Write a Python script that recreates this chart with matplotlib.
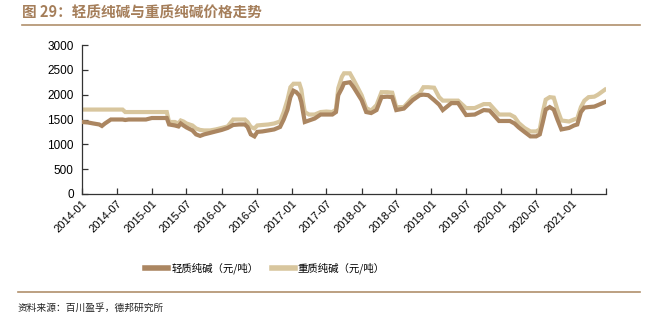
import matplotlib
matplotlib.use("Agg")
import matplotlib.pyplot as plt
import matplotlib.dates as mdates
import pandas as pd
from matplotlib.lines import Line2D

plt.rcParams['font.family'] = ['Liberation Sans', 'Noto Sans CJK SC', 'DejaVu Sans']

dates = [
    "2014-01-01", "2014-02-01", "2014-03-01", "2014-04-01", "2014-04-15", "2014-05-01",
    "2014-06-01", "2014-07-01", "2014-08-01", "2014-08-15", "2014-09-01", "2014-10-01",
    "2014-11-01", "2014-12-01", "2015-01-01", "2015-02-01", "2015-03-01", "2015-03-20",
    "2015-04-01", "2015-05-01", "2015-05-20", "2015-06-01", "2015-06-15", "2015-07-01",
    "2015-08-01", "2015-08-20", "2015-09-10", "2015-10-01", "2015-11-01", "2015-12-01",
    "2016-01-01", "2016-02-01", "2016-03-01", "2016-04-01", "2016-05-01", "2016-05-15",
    "2016-06-01", "2016-06-20", "2016-07-05", "2016-08-01", "2016-09-01", "2016-10-01",
    "2016-11-01", "2016-11-20", "2016-12-10", "2016-12-25", "2017-01-10", "2017-01-25",
    "2017-02-10", "2017-02-20", "2017-03-01", "2017-03-10", "2017-04-01", "2017-05-01",
    "2017-06-01", "2017-07-01", "2017-08-01", "2017-08-20", "2017-09-01", "2017-09-20",
    "2017-10-01", "2017-11-01", "2017-11-20", "2018-01-01", "2018-01-25", "2018-02-20",
    "2018-03-20", "2018-04-15", "2018-05-15", "2018-06-10", "2018-07-01", "2018-08-10",
    "2018-09-25", "2018-11-01", "2018-11-20", "2018-12-15", "2019-01-15", "2019-02-10",
    "2019-03-01", "2019-04-15", "2019-05-20", "2019-07-01", "2019-08-15", "2019-10-01",
    "2019-11-01", "2019-12-20", "2020-02-15", "2020-03-10", "2020-04-01", "2020-05-01",
    "2020-06-01", "2020-07-01", "2020-07-20", "2020-08-05", "2020-08-20", "2020-09-10",
    "2020-10-01", "2020-10-20", "2020-11-10", "2020-12-20", "2021-01-15", "2021-02-01",
    "2021-02-20", "2021-03-10", "2021-04-01", "2021-05-01", "2021-05-20", "2021-06-25",
]

light_soda = [
    1450, 1440, 1420, 1400, 1370, 1420,
    1500, 1500, 1500, 1490, 1500, 1500,
    1500, 1500, 1530, 1530, 1530, 1530,
    1400, 1380, 1360, 1420, 1380, 1340,
    1280, 1200, 1170, 1200, 1230, 1260,
    1290, 1330, 1390, 1400, 1400, 1350,
    1200, 1160, 1250, 1260, 1280, 1300,
    1350, 1500, 1700, 1950, 2080, 2050,
    1980, 1850, 1650, 1450, 1480, 1520,
    1600, 1600, 1600, 1650, 1990, 2130,
    2230, 2250, 2150, 1890, 1650, 1630,
    1690, 1950, 1960, 1950, 1690, 1720,
    1890, 1990, 2000, 1990, 1890, 1800,
    1690, 1830, 1830, 1590, 1600, 1690,
    1680, 1470, 1470, 1420, 1340, 1250,
    1160, 1160, 1200, 1450, 1700, 1750,
    1700, 1500, 1300, 1330, 1380, 1400,
    1650, 1740, 1750, 1760, 1790, 1850,
]

heavy_soda = [
    1700, 1700, 1700, 1700, 1700, 1700,
    1700, 1700, 1700, 1650, 1650, 1650,
    1650, 1650, 1650, 1650, 1650, 1650,
    1450, 1450, 1420, 1480, 1460, 1420,
    1380, 1320, 1290, 1280, 1280, 1300,
    1330, 1360, 1500, 1500, 1500, 1450,
    1350, 1320, 1380, 1390, 1400, 1420,
    1460, 1650, 1900, 2150, 2220, 2220,
    2220, 2100, 1850, 1650, 1600, 1600,
    1650, 1660, 1650, 1700, 2130, 2360,
    2430, 2430, 2300, 1990, 1730, 1680,
    1790, 2050, 2050, 2040, 1750, 1750,
    1950, 2030, 2150, 2150, 2140, 1950,
    1880, 1880, 1880, 1730, 1730, 1810,
    1810, 1600, 1600, 1550, 1430, 1330,
    1260, 1260, 1300, 1650, 1900, 1950,
    1940, 1700, 1480, 1460, 1500, 1520,
    1750, 1880, 1950, 1960, 2000, 2100,
]

series_names = ["轻质纯碱（元/吨）", "重质纯碱（元/吨）"]
tick_dates = ["2014-01", "2014-07", "2015-01", "2015-07", "2016-01", "2016-07",
              "2017-01", "2017-07", "2018-01", "2018-07", "2019-01", "2019-07",
              "2020-01", "2020-07", "2021-01"]
y_ticks = [0, 500, 1000, 1500, 2000, 2500, 3000]

c_light = "#AB8661"
c_heavy = "#D8C69E"
c_title = "#A57E5A"

x = pd.to_datetime(dates)

fig = plt.figure(figsize=(6.57, 3.27), dpi=100)
ax = fig.add_axes([82/657, 1-194/327, (606-82)/657, (194-45)/327])

ax.plot(x, light_soda, color=c_light, lw=3.0, solid_joinstyle='miter', zorder=3)
ax.plot(x, heavy_soda, color=c_heavy, lw=3.0, solid_joinstyle='miter', zorder=2)

ax.set_ylim(0, 3000)
ax.set_yticks(y_ticks)
ax.set_yticklabels([str(v) for v in y_ticks], fontsize=8.5)
xmin = pd.Timestamp("2014-01-01")
xmax = pd.Timestamp("2021-07-01")
ax.set_xlim(xmin, xmax)
tick_pos = list(pd.to_datetime([t + "-01" for t in tick_dates])) + [xmax]
ax.set_xticks(tick_pos)
ax.set_xticklabels(tick_dates + [""], rotation=45, ha='right', rotation_mode='anchor', fontsize=8)

for s in ['top', 'right']:
    ax.spines[s].set_visible(False)
for s in ['left', 'bottom']:
    ax.spines[s].set_color('#333333')
    ax.spines[s].set_linewidth(0.9)
ax.tick_params(axis='both', direction='in', length=4, width=0.9, color='#333333', pad=3)
ax.tick_params(axis='y', pad=6)

# title
fig.text(22/657, 1-13/327, "图 29：轻质纯碱与重质纯碱价格走势", fontsize=10.5, fontweight='bold',
         color=c_title, ha='left', va='center', family=['Noto Sans CJK SC', 'DejaVu Sans'])
fig.add_artist(Line2D([22/657, 640/657], [1-25/327, 1-25/327], color="#B0906C", lw=1.2))
fig.add_artist(Line2D([18/657, 640/657], [1-292/327, 1-292/327], color="#B0906C", lw=1.2))
fig.text(18/657, 1-308/327, "资料来源：百川盈孚，德邦研究所", fontsize=7, color='#222222',
         ha='left', va='center', family=['Noto Sans CJK SC', 'DejaVu Sans'])

handles = [Line2D([], [], color=c_light, lw=4), Line2D([], [], color=c_heavy, lw=4)]
leg = fig.legend(handles, series_names, loc='center', bbox_to_anchor=(265/657, 1-268/327),
                 ncol=2, frameon=False, handlelength=2.2, columnspacing=1.3,
                 handletextpad=0.3, prop={'family': ['Noto Sans CJK SC', 'DejaVu Sans'], 'size': 7.5})

fig.savefig("out.png", dpi=100)
